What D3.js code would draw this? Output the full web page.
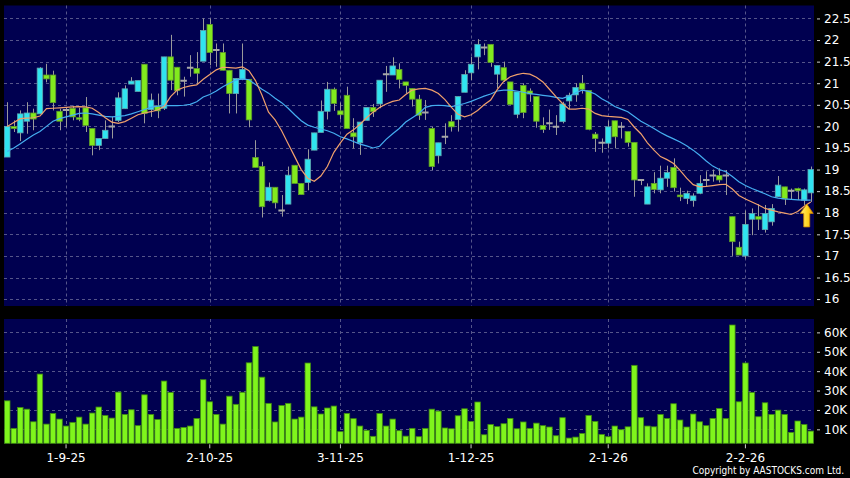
<!DOCTYPE html>
<html><head><meta charset="utf-8">
<script src="https://cdn.jsdelivr.net/npm/d3@7"></script>
<style>body{margin:0;background:#000;} svg{display:block;}</style>
</head><body>
<svg id="chart" width="850" height="478"></svg>
<script>
// ---------- DATA ----------
const openP = [19.29,20.0,19.85,20.12,20.31,20.29,21.19,21.19,20.35,20.38,
20.42,20.2,20.43,19.95,19.56,19.72,20.0,20.14,20.41,20.98,
20.81,21.44,20.39,20.47,20.42,21.61,21.37,21.06,21.36,21.34,
21.51,22.36,21.77,21.71,21.3,20.76,21.09,21.09,19.28,19.07,
18.28,18.59,18.05,18.2,19.1,18.68,18.7,19.45,19.86,20.35,
20.86,20.36,20.72,19.85,19.62,20.14,20.44,20.52,21.21,21.19,
21.32,21.03,20.88,20.63,20.32,19.95,19.32,19.76,20.11,20.16,
20.79,21.24,21.61,21.83,21.9,21.21,21.36,21.03,20.28,20.95,
20.82,20.69,20.02,20.07,19.99,20.11,20.59,20.73,21.0,20.83,
19.82,19.62,19.61,20.13,19.99,19.88,19.63,18.76,18.2,18.68,
18.53,18.8,19.05,18.41,18.33,18.28,18.45,18.76,18.86,18.86,
18.86,17.91,17.2,17.0,17.85,17.91,17.61,17.79,18.37,18.6,
18.51,18.56,18.29,18.46];
const highP = [20.56,20.14,20.37,20.56,20.41,21.37,21.45,21.29,20.41,20.45,
20.48,20.43,20.68,19.95,19.72,20.14,20.22,20.79,20.95,21.14,
21.06,21.44,20.76,20.76,21.61,22.12,21.37,21.15,21.65,21.72,
22.5,22.5,21.92,21.92,21.3,21.11,21.92,21.09,19.68,19.18,
18.7,18.59,18.41,19.07,19.1,18.68,19.47,19.85,20.6,21.03,
20.9,20.55,20.92,20.19,20.1,20.44,20.52,21.07,21.4,21.6,
21.46,21.03,20.88,20.73,20.61,19.99,19.62,20.07,20.26,20.69,
21.3,21.61,22.02,21.92,21.9,21.41,21.5,21.03,20.8,21.0,
20.88,20.69,20.21,20.39,20.26,20.57,20.78,21.0,21.19,20.83,
19.87,19.72,20.13,20.13,20.1,19.88,19.63,18.76,18.68,18.94,
19.09,19.09,19.26,18.58,18.51,18.45,18.87,18.96,19.0,19.03,
18.99,17.91,17.33,18.05,18.1,18.2,18.18,18.2,18.85,18.6,
18.56,18.58,18.56,19.07];
const lowP = [19.29,19.87,19.66,19.83,19.91,20.29,21.02,20.37,19.91,19.98,
20.14,20.12,19.87,19.33,19.45,19.72,19.72,20.1,20.41,20.98,
20.81,20.07,20.22,20.19,20.38,20.84,20.72,20.69,21.15,20.99,
21.51,21.42,21.38,21.3,20.3,20.3,21.07,19.98,19.05,17.89,
18.26,18.1,17.91,18.2,18.68,18.42,18.52,19.45,19.86,20.16,
20.36,20.16,19.95,19.49,19.34,20.14,20.22,20.42,20.8,21.19,
20.88,20.76,20.46,20.15,20.15,18.99,19.14,19.59,19.88,19.88,
20.79,21.07,21.32,21.65,21.38,20.88,21.03,20.5,20.19,20.19,
20.57,19.97,19.85,19.92,19.8,20.07,20.4,20.57,20.76,19.91,
19.41,19.39,19.49,19.49,19.72,19.53,18.37,18.64,18.2,18.45,
18.45,18.6,18.49,18.27,18.2,18.14,18.43,18.6,18.72,18.7,
18.41,17.0,17.02,16.94,17.48,17.6,17.54,17.7,18.37,18.18,
18.3,18.3,18.18,18.25];
const closeP = [20.0,19.95,20.29,20.31,20.17,21.35,21.1,20.55,20.12,20.38,
20.22,20.17,20.02,19.56,19.72,19.91,20.0,20.66,20.87,21.05,
21.06,20.3,20.61,20.36,21.61,21.07,20.83,21.06,21.36,21.23,
22.22,21.71,21.77,21.3,20.76,21.11,21.32,20.15,19.05,18.14,
18.59,18.23,18.05,18.87,18.68,18.42,19.24,19.85,20.35,20.86,
20.53,20.27,19.95,19.76,20.1,20.44,20.34,21.07,21.21,21.4,
21.09,20.95,20.63,20.26,20.32,19.07,19.62,19.76,19.99,20.69,
21.2,21.44,21.9,21.83,21.48,21.41,21.07,20.51,20.8,20.32,
20.75,20.12,19.93,20.07,19.99,20.52,20.72,20.9,20.86,19.93,
19.72,19.62,19.99,19.76,19.99,19.63,18.76,18.76,18.6,18.54,
18.8,18.93,18.58,18.37,18.45,18.39,18.68,18.76,18.86,18.76,
18.86,17.33,17.02,17.73,17.98,17.85,17.98,18.1,18.64,18.32,
18.51,18.51,18.53,19.0];
// volume in thousands of shares
const volumeK = [24.7,10.5,21.3,20.4,13.9,38.5,12.7,18.2,15.3,11.7,
13.6,16.3,12.7,18.4,21.5,17.2,15.8,29.2,17.7,20.1,
11.9,27.8,17.7,15.1,34.9,29.0,10.5,11.0,11.7,15.6,
35.6,24.2,17.7,12.7,27.1,22.9,29.1,44.3,52.7,36.9,
23.4,13.8,22.3,23.4,15.3,16.3,44.2,21.6,17.9,21.0,
22.0,8.8,18.2,15.5,11.7,9.5,6.4,18.2,11.7,15.3,
9.3,6.5,10.5,6.2,10.5,20.4,19.4,10.7,10.3,17.0,
20.6,14.1,24.1,7.2,12.5,11.4,12.9,15.6,10.3,13.8,
10.5,13.2,11.9,11.2,6.7,16.0,5.5,6.0,7.9,17.2,
14.1,7.4,6.2,11.7,9.8,11.3,43.0,16.0,11.7,11.3,
17.7,15.6,23.2,14.8,11.2,17.9,13.9,11.9,15.6,20.8,
15.6,63.8,24.2,44.2,29.0,16.5,23.7,17.7,19.9,17.7,
8.4,14.3,12.5,9.1];
// moving averages as drawn (orange = 10 day, blue = 20 day)
const ma10 = [20.0,20.09,20.18,20.19,20.2,20.24,20.41,20.42,20.43,20.44,
20.45,20.46,20.45,20.42,20.32,20.2,20.1,20.07,20.11,20.19,
20.27,20.31,20.34,20.38,20.46,20.69,20.84,20.9,20.94,20.96,
21.09,21.2,21.31,21.37,21.36,21.35,21.38,21.29,21.06,20.72,
20.33,20.15,19.9,19.6,19.3,19.0,18.8,18.73,18.85,19.07,
19.4,19.62,19.82,19.92,20.05,20.2,20.33,20.44,20.52,20.58,
20.61,20.74,20.84,20.87,20.88,20.84,20.76,20.62,20.44,20.28,
20.22,20.27,20.37,20.5,20.61,20.85,21.04,21.15,21.2,21.23,
21.21,21.14,21.03,20.86,20.69,20.53,20.4,20.4,20.42,20.4,
20.3,20.25,20.23,20.22,20.21,20.16,19.98,19.83,19.62,19.45,
19.3,19.23,19.14,18.98,18.8,18.65,18.6,18.61,18.63,18.65,
18.66,18.55,18.4,18.32,18.25,18.18,18.1,18.06,18.02,17.99,
17.96,18.03,18.15,18.25];
const ma20 = [19.42,19.5,19.6,19.7,19.8,19.88,20.0,20.12,20.18,20.22,
20.26,20.3,20.31,20.29,20.26,20.23,20.22,20.23,20.25,20.29,
20.34,20.39,20.44,20.47,20.48,20.48,20.48,20.49,20.51,20.57,
20.68,20.74,20.82,20.92,21.0,21.07,21.1,21.08,20.97,20.86,
20.77,20.65,20.55,20.42,20.27,20.13,20.03,19.98,19.94,19.9,
19.84,19.76,19.71,19.65,19.59,19.55,19.5,19.54,19.7,19.83,
19.95,20.1,20.2,20.3,20.44,20.48,20.49,20.48,20.46,20.49,
20.53,20.58,20.64,20.7,20.75,20.82,20.84,20.84,20.82,20.79,
20.76,20.74,20.72,20.7,20.67,20.65,20.7,20.78,20.84,20.81,
20.75,20.64,20.56,20.46,20.4,20.34,20.23,20.12,20.04,19.95,
19.86,19.78,19.71,19.64,19.55,19.45,19.33,19.2,19.08,19.0,
18.95,18.84,18.72,18.63,18.56,18.5,18.44,18.37,18.34,18.32,
18.31,18.3,18.29,18.29];
const dateTickIndex = [9, 31, 51, 71, 92, 113];
const dateTickLabels = ["1-9-25", "2-10-25", "3-11-25", "1-12-25", "2-1-26", "2-2-26"];
const priceTicks = [16, 16.5, 17, 17.5, 18, 18.5, 19, 19.5, 20, 20.5, 21, 21.5, 22, 22.5];
const volumeTicks = [10, 20, 30, 40, 50, 60];
const volumeTickLabels = ["10K", "20K", "30K", "40K", "50K", "60K"];

// ---------- LAYOUT ----------
const W = 850, H = 478;
const plotL = 4, plotR = 814;
const mainT = 5.5, mainB = 306;
const volT = 319, volB = 443.3;
const bg = "#000050";
const gridC = "#55558a";
const cyan = "#30e4f0", lime = "#82ea1e", doji = "#a8a8a8", wickC = "#9a9a9a";
const fontF = "DejaVu Sans, Verdana, sans-serif";

const svg = d3.select("#chart");
svg.append("rect").attr("width", W).attr("height", H).attr("fill", "#000");

const n = closeP.length;
const x = d3.scaleBand().domain(d3.range(n)).range([plotL, plotR]).paddingInner(0.16).paddingOuter(0.08);
const xc = i => x(i) + x.bandwidth() / 2;
const bw = x.bandwidth();
const y = d3.scaleLinear().domain([15.84, 22.8]).range([mainB, mainT]);
const yv = d3.scaleLinear().domain([2.8, 66.9]).range([volB, volT]);

// panels
svg.append("rect").attr("x", plotL).attr("y", mainT).attr("width", plotR - plotL).attr("height", mainB - mainT).attr("fill", bg);
svg.append("rect").attr("x", plotL).attr("y", volT).attr("width", plotR - plotL).attr("height", volB - volT).attr("fill", bg);

// grid
const g = svg.append("g").attr("stroke", gridC).attr("stroke-width", 1).attr("stroke-dasharray", "3,3");
g.selectAll(".hp").data(priceTicks).join("line")
  .attr("x1", plotL).attr("x2", plotR).attr("y1", d => Math.round(y(d)) + 0.5).attr("y2", d => Math.round(y(d)) + 0.5);
g.selectAll(".hv").data(volumeTicks).join("line")
  .attr("x1", plotL).attr("x2", plotR).attr("y1", d => Math.round(yv(d)) + 0.5).attr("y2", d => Math.round(yv(d)) + 0.5);
g.selectAll(".vm").data(dateTickIndex).join("line")
  .attr("x1", d => Math.round(xc(d)) + 0.5).attr("x2", d => Math.round(xc(d)) + 0.5).attr("y1", mainT).attr("y2", mainB);
g.selectAll(".vv").data(dateTickIndex).join("line")
  .attr("x1", d => Math.round(xc(d)) + 0.5).attr("x2", d => Math.round(xc(d)) + 0.5).attr("y1", volT).attr("y2", volB);

// clip for main plot
svg.append("clipPath").attr("id", "mainclip").append("rect")
  .attr("x", plotL).attr("y", mainT).attr("width", plotR - plotL).attr("height", mainB - mainT);

const idx = d3.range(n);
const cg = svg.append("g").attr("clip-path", "url(#mainclip)");

// wicks
cg.selectAll(".wick").data(idx).join("line")
  .attr("x1", i => Math.round(xc(i)) + 0.5).attr("x2", i => Math.round(xc(i)) + 0.5)
  .attr("y1", i => y(highP[i])).attr("y2", i => y(lowP[i]))
  .attr("stroke", wickC).attr("stroke-width", 1);

// bodies
const isDoji = i => Math.abs(closeP[i] - openP[i]) < 0.005;
cg.selectAll(".body").data(idx.filter(i => !isDoji(i))).join("rect")
  .attr("x", i => x(i)).attr("width", bw)
  .attr("y", i => y(Math.max(openP[i], closeP[i])))
  .attr("height", i => Math.max(1.5, Math.abs(y(openP[i]) - y(closeP[i]))))
  .attr("fill", i => closeP[i] > openP[i] ? cyan : lime)
  .attr("stroke", i => closeP[i] > openP[i] ? "#5fa8b0" : "#5e9a2a").attr("stroke-width", 0.8);
cg.selectAll(".doji").data(idx.filter(isDoji)).join("line")
  .attr("x1", i => x(i) - 0.5).attr("x2", i => x(i) + bw + 0.5)
  .attr("y1", i => y(closeP[i])).attr("y2", i => y(closeP[i]))
  .attr("stroke", doji).attr("stroke-width", 2);

// moving averages
const maLine = d3.line().x((d, i) => xc(i)).y(d => y(d));
cg.append("path").attr("d", maLine(ma20)).attr("fill", "none").attr("stroke", "#45aef0").attr("stroke-width", 1.2);
cg.append("path").attr("d", maLine(ma10)).attr("fill", "none").attr("stroke", "#f0a06c").attr("stroke-width", 1.2);

// arrow on last candle
const defs = svg.append("defs");
const grad = defs.append("linearGradient").attr("id", "ag").attr("x1", 0).attr("x2", 1).attr("y1", 0).attr("y2", 0);
grad.append("stop").attr("offset", "0%").attr("stop-color", "#fff27a");
grad.append("stop").attr("offset", "60%").attr("stop-color", "#ffd21a");
grad.append("stop").attr("offset", "100%").attr("stop-color", "#e8a000");
const last = n - 1;
const ax = xc(last) - 4, ay = y(lowP[last]) + 2;
const arrowShape = [[0,0],[6.5,9.5],[3,9.5],[3,23],[-3,23],[-3,9.5],[-6.5,9.5]];
svg.append("path")
  .attr("d", "M" + arrowShape.map(p => (ax + p[0]) + "," + (ay + p[1])).join("L") + "Z")
  .attr("fill", "url(#ag)").attr("stroke", "#c98200").attr("stroke-width", 0.8);

// volume bars
svg.append("g").selectAll("rect").data(idx).join("rect")
  .attr("x", i => x(i)).attr("width", bw)
  .attr("y", i => yv(volumeK[i])).attr("height", i => volB - yv(volumeK[i]))
  .attr("fill", "#7ff51c").attr("stroke", "#3f8a12").attr("stroke-width", 0.8);

// axes
const styleAxis = sel => {
  sel.select(".domain").remove();
  sel.selectAll(".tick line").attr("stroke", "#cfcfcf");
  sel.selectAll(".tick text").attr("fill", "#ffffff").style("font-family", fontF);
};
svg.append("g").attr("transform", `translate(${plotR + 3},0)`)
  .call(d3.axisRight(y).tickValues(priceTicks).tickSize(3).tickPadding(4).tickFormat(d => d3.format("")(d)))
  .call(styleAxis).selectAll("text").style("font-size", "12px");
svg.append("g").attr("transform", `translate(${plotR + 3},0)`)
  .call(d3.axisRight(yv).tickValues(volumeTicks).tickSize(3).tickPadding(4).tickFormat((d, i) => volumeTickLabels[i]))
  .call(styleAxis).selectAll("text").style("font-size", "12px");

svg.append("g").attr("transform", `translate(0,${volB + 1})`)
  .call(d3.axisBottom(x).tickValues(dateTickIndex).tickSize(4).tickPadding(5).tickFormat((d, i) => dateTickLabels[i]))
  .call(styleAxis).selectAll("text").style("font-size", "12px");

svg.append("text").attr("x", 844).attr("y", 474).attr("text-anchor", "end")
  .attr("fill", "#ffffff").style("font-family", "DejaVu Sans Condensed, DejaVu Sans, sans-serif").style("font-size", "10px")
  .text("Copyright by AASTOCKS.com Ltd.");
</script>
</body></html>
